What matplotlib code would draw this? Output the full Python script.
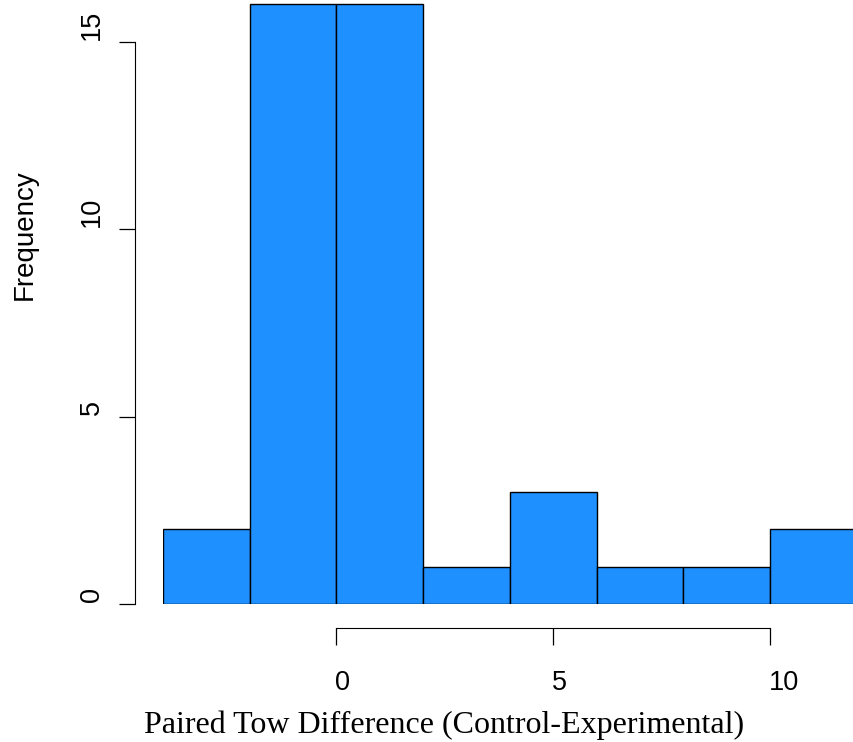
import numpy as np
import matplotlib
matplotlib.use('Agg')
import matplotlib.pyplot as plt
from matplotlib.transforms import blended_transform_factory, ScaledTranslation

edges = [-4, -2, 0, 2, 4, 6, 8, 10, 12]
counts = [2, 16, 16, 1, 3, 1, 1, 2]
xticks = [0, 5, 10]
yticks = [0, 5, 10, 15]

W, H = 854, 742
fig = plt.figure(figsize=(W / 100, H / 100), dpi=100)

# axes spans pixel x 163..854, y 0..604 (top-down)
ax = fig.add_axes([163 / W, (H - 604) / H, (W - 163) / W, 604 / H])
ax.bar(edges[:-1], counts, width=np.diff(edges), align='edge',
       color='#1E90FF', edgecolor='black', linewidth=1.0)

ax.set_xlim(-4, -4 + (W - 163) / 43.35)
ax.set_ylim(0, 604 / 37.47)

for s in ['top', 'right']:
    ax.spines[s].set_visible(False)
ax.spines['left'].set_position(('outward', 28 * 0.72))
ax.spines['bottom'].set_position(('outward', 24 * 0.72))
ax.spines['left'].set_bounds(0, 15)
ax.spines['bottom'].set_bounds(0, 10)

ax.set_xticks(xticks)
ax.set_yticks(yticks)
ax.tick_params(length=16.5 * 0.72, width=0.9, labelbottom=False, labelleft=False)

# tick labels, anchored at their start like the original
tx = blended_transform_factory(ax.transData, fig.transFigure)
for v in xticks:
    ax.text(v, (H - 690) / H, str(v), ha='left', va='baseline', fontsize=19.5,
            family='Liberation Sans', clip_on=False,
            transform=tx + ScaledTranslation(-1.5 / 100, 0, fig.dpi_scale_trans))
ty = blended_transform_factory(fig.transFigure, ax.transData)
for v in yticks:
    ax.text(99 / W, v, str(v), ha='left', va='baseline', rotation=90,
            rotation_mode='anchor', fontsize=19.5, family='Liberation Sans',
            clip_on=False,
            transform=ty + ScaledTranslation(0, 2 / 100, fig.dpi_scale_trans))

fig.text(444 / W, (H - 733) / H, 'Paired Tow Difference (Control-Experimental)',
         ha='center', va='baseline', family='Liberation Serif', fontsize=23)
fig.text(32 / W, (H - 235) / H, 'Frequency', ha='center', va='baseline',
         rotation=90, rotation_mode='anchor', family='Liberation Sans',
         fontsize=20)

fig.savefig('out.png', dpi=100)
